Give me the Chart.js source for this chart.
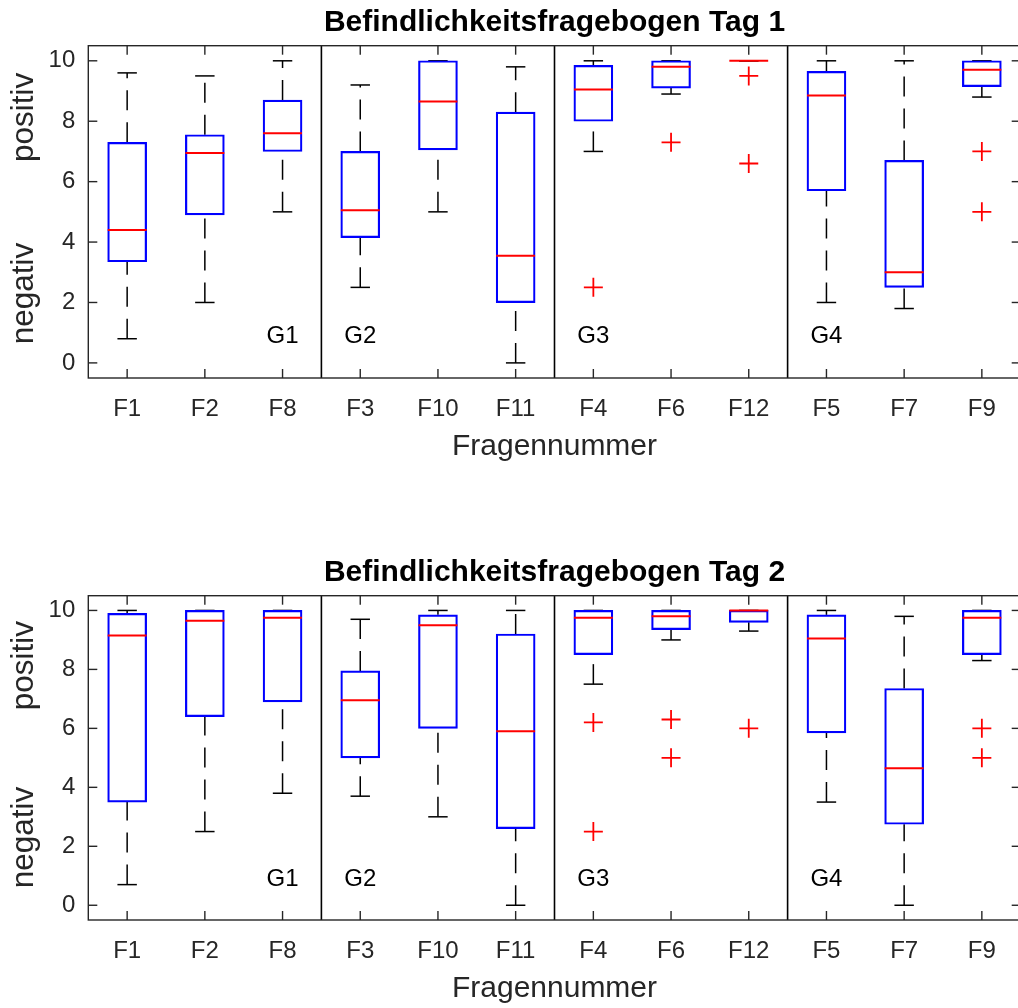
<!DOCTYPE html>
<html>
<head>
<meta charset="utf-8">
<script src="https://cdn.jsdelivr.net/npm/chart.js@4.4.1/dist/chart.umd.min.js"></script>
<style>
  html, body { margin: 0; padding: 0; background: #fff; overflow: hidden; width: 1018px; height: 1008px; }
  .wrap { position: absolute; left: 0; width: 1032px; }
</style>
</head>
<body>
<div class="wrap" style="top:0;height:466px"><canvas id="tag1"></canvas></div>
<div class="wrap" style="top:550px;height:458px"><canvas id="tag2"></canvas></div>
<script>
// Fragen, in der Reihenfolge der Gruppen G1..G4
const categories = ['F1', 'F2', 'F8', 'F3', 'F10', 'F11', 'F4', 'F6', 'F12', 'F5', 'F7', 'F9'];
const groupLabels = ['G1', 'G2', 'G3', 'G4'];
const groupLabelAt = [2, 3, 6, 9];      // index of the question under each group label
const groupSplitAfter = [2, 5, 8];      // separators after these indices
const yTicks = [0, 2, 4, 6, 8, 10];

// Tag 1
const min1 = [0.8, 2.0, 5.0, 2.5, 5.0, 0.0, 7.0, 8.9, 10, 2.0, 1.8, 8.8];
const q1_1 = [3.35, 4.9, 7.0, 4.15, 7.05, 2.0, 8.0, 9.1, 10, 5.7, 2.5, 9.15];
const med1 = [4.4, 6.95, 7.6, 5.05, 8.65, 3.55, 9.05, 9.8, 10, 8.85, 3.0, 9.7];
const q3_1 = [7.3, 7.55, 8.7, 7.0, 10, 8.3, 9.85, 10, 10, 9.65, 6.7, 10];
const max1 = [9.6, 9.5, 10, 9.2, 10, 9.8, 10, 10, 10, 10, 10, 10];
const outCat1 = ['F4', 'F6', 'F12', 'F12', 'F9', 'F9'];
const outVal1 = [2.5, 7.3, 9.5, 6.6, 7.0, 5.0];

// Tag 2
const min2 = [0.7, 2.5, 3.8, 3.7, 3.0, 0.0, 7.5, 9.0, 9.3, 3.5, 0.0, 8.3];
const q1_2 = [3.5, 6.4, 6.9, 5.0, 6.0, 2.6, 8.5, 9.35, 9.6, 5.85, 2.75, 8.5];
const med2 = [9.15, 9.65, 9.75, 6.95, 9.5, 5.9, 9.75, 9.8, 10, 9.05, 4.65, 9.75];
const q3_2 = [9.9, 10, 10, 7.95, 9.85, 9.2, 10, 10, 10, 9.85, 7.35, 10];
const max2 = [10, 10, 10, 9.7, 10, 10, 10, 10, 10, 10, 9.8, 10];
const outCat2 = ['F4', 'F4', 'F6', 'F6', 'F12', 'F9', 'F9'];
const outVal2 = [6.2, 2.5, 6.3, 5.0, 6.0, 6.0, 5.0];

const FONT = 'Helvetica, Arial, "Liberation Sans", sans-serif';
const AXIS = '#262626';

function line(ctx, x1, y1, x2, y2) {
    ctx.beginPath();
    ctx.moveTo(x1, y1);
    ctx.lineTo(x2, y2);
    ctx.stroke();
}

function boxPlugin(lo, med, q1, q3, hi) {
    return {
        id: 'boxExtras',
        beforeDatasetsDraw(chart) {
            const { ctx, scales: { x, y } } = chart;
            const step = x.getPixelForValue(1) - x.getPixelForValue(0);
            ctx.save();
            ctx.strokeStyle = '#000';
            ctx.lineWidth = 1.5;
            categories.forEach((c, i) => {
                const px = x.getPixelForValue(i);
                ctx.setLineDash([20, 12]);
                line(ctx, px, y.getPixelForValue(lo[i]), px, y.getPixelForValue(q1[i]));
                line(ctx, px, y.getPixelForValue(q3[i]), px, y.getPixelForValue(hi[i]));
                ctx.setLineDash([]);
                [lo[i], hi[i]].forEach(v => {
                    const py = y.getPixelForValue(v);
                    line(ctx, px - step * 0.125, py, px + step * 0.125, py);
                });
            });
            ctx.restore();
        },
        afterDatasetsDraw(chart) {
            const { ctx, chartArea: a, scales: { x, y } } = chart;
            const step = x.getPixelForValue(1) - x.getPixelForValue(0);
            ctx.save();
            // medians
            ctx.strokeStyle = '#ff0000';
            ctx.lineWidth = 2;
            categories.forEach((c, i) => {
                const px = x.getPixelForValue(i);
                const py = y.getPixelForValue(med[i]);
                line(ctx, px - step * 0.25, py, px + step * 0.25, py);
            });
            // group separators
            ctx.strokeStyle = '#000';
            ctx.lineWidth = 1.6;
            groupSplitAfter.forEach(i => {
                const px = (x.getPixelForValue(i) + x.getPixelForValue(i + 1)) / 2;
                line(ctx, px, a.top, px, a.bottom);
            });
            // axes box with inward ticks
            ctx.strokeStyle = AXIS;
            ctx.lineWidth = 1.4;
            ctx.strokeRect(a.left, a.top, a.width, a.height);
            yTicks.forEach(v => {
                const py = y.getPixelForValue(v);
                line(ctx, a.left, py, a.left + 9, py);
                line(ctx, a.right - 9, py, a.right, py);
            });
            categories.forEach((c, i) => {
                const px = x.getPixelForValue(i);
                line(ctx, px, a.bottom, px, a.bottom - 9);
                line(ctx, px, a.top, px, a.top + 9);
            });
            // group labels
            ctx.fillStyle = '#000';
            ctx.font = '24px ' + FONT;
            ctx.textAlign = 'center';
            ctx.textBaseline = 'middle';
            groupLabels.forEach((g, j) => {
                ctx.fillText(g, x.getPixelForValue(groupLabelAt[j]), y.getPixelForValue(0.88));
            });
            // y axis labels
            ctx.fillStyle = AXIS;
            ctx.font = '31.5px ' + FONT;
            ctx.textBaseline = 'alphabetic';
            [['positiv', 8.13], ['negativ', 2.3]].forEach(([t, v]) => {
                ctx.save();
                ctx.translate(33, y.getPixelForValue(v));
                ctx.rotate(-Math.PI / 2);
                ctx.fillText(t, 0, 0);
                ctx.restore();
            });
            ctx.restore();
        }
    };
}

function makeChart(id, title, lo, q1, med, q3, hi, outCat, outVal) {
    const ctx = document.getElementById(id).getContext('2d');
    return new Chart(ctx, {
        type: 'bar',
        data: {
            labels: categories,
            datasets: [
                {
                    type: 'bar',
                    data: categories.map((c, i) => [q1[i], q3[i]]),
                    backgroundColor: 'rgba(0,0,0,0)',
                    borderColor: '#0000ff',
                    borderWidth: 1.4,
                    borderSkipped: false,
                    inflateAmount: 0.4,
                    barPercentage: 0.5,
                    categoryPercentage: 1,
                    order: 2
                },
                {
                    type: 'scatter',
                    data: outCat.map((c, i) => ({ x: c, y: outVal[i] })),
                    pointStyle: 'cross',
                    radius: 9.5,
                    borderColor: '#ff0000',
                    borderWidth: 1.8,
                    order: 1
                }
            ]
        },
        options: {
            responsive: true,
            maintainAspectRatio: false,
            animation: false,
            events: [],
            layout: { padding: { left: 0, right: 5, top: 0, bottom: 0 } },
            plugins: {
                legend: { display: false },
                tooltip: { enabled: false },
                title: {
                    display: true,
                    fullSize: false,
                    text: title,
                    color: '#000',
                    font: { family: FONT, size: 30, weight: 'bold' },
                    padding: { top: 5, bottom: 4.7 }
                }
            },
            scales: {
                x: {
                    type: 'category',
                    offset: true,
                    grid: { display: false, drawTicks: false },
                    border: { display: false },
                    ticks: { color: AXIS, font: { family: FONT, size: 24 }, padding: 17, maxRotation: 0, autoSkip: false },
                    title: { display: true, text: 'Fragennummer', color: AXIS, font: { family: FONT, size: 30 }, padding: { top: 0, bottom: 1 } },
                    afterFit: s => { s.height = 88; }
                },
                y: {
                    min: -0.5,
                    max: 10.5,
                    afterBuildTicks: s => { s.ticks = yTicks.map(v => ({ value: v })); },
                    grid: { display: false, drawTicks: false },
                    border: { display: false },
                    ticks: { color: AXIS, font: { family: FONT, size: 24 }, padding: 13 },
                    afterFit: s => { s.width = 88.3; }
                }
            }
        },
        plugins: [boxPlugin(lo, med, q1, q3, hi)]
    });
}

makeChart('tag1', 'Befindlichkeitsfragebogen Tag 1', min1, q1_1, med1, q3_1, max1, outCat1, outVal1);
makeChart('tag2', 'Befindlichkeitsfragebogen Tag 2', min2, q1_2, med2, q3_2, max2, outCat2, outVal2);
</script>
</body>
</html>
